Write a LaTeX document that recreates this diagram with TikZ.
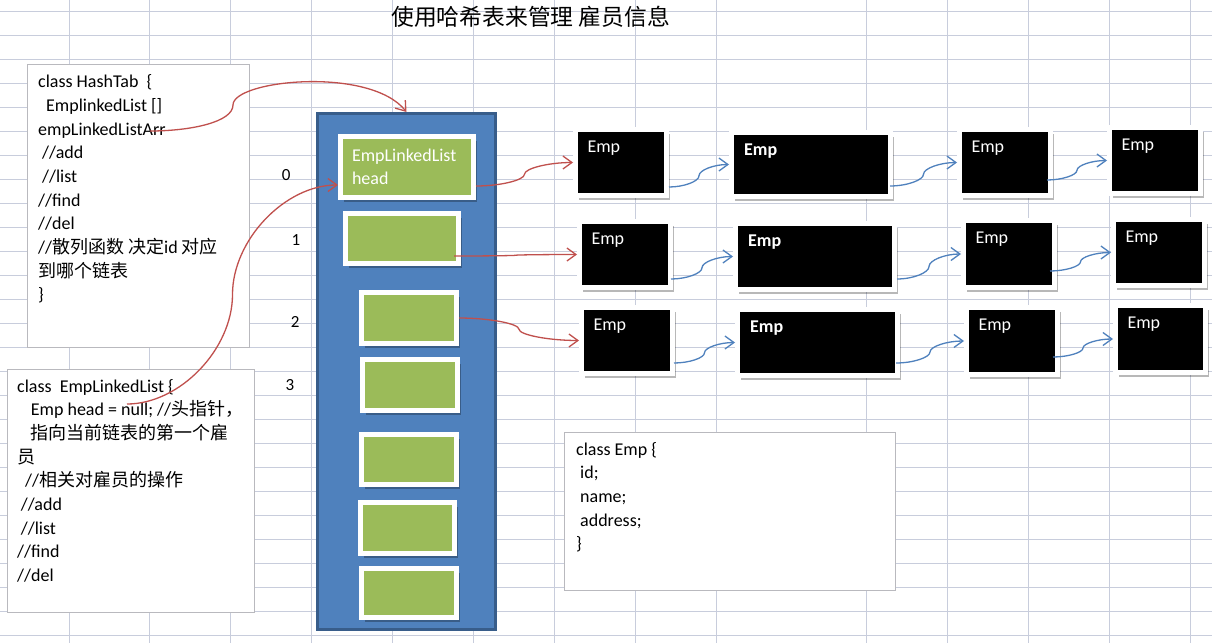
\documentclass[tikz,border=0pt]{standalone}
\usepackage{fontspec}
\setmainfont{Carlito}
\newfontfamily\cjk{Noto Sans CJK SC}
\usetikzlibrary{arrows.meta,shadows,calc}
\definecolor{gridc}{RGB}{200,205,220}
\definecolor{boxborder}{RGB}{185,185,190}
\definecolor{colblue}{RGB}{79,129,189}
\definecolor{colborder}{RGB}{56,93,138}
\definecolor{lgreen}{RGB}{155,187,89}
\definecolor{redc}{RGB}{192,80,77}
\definecolor{bluec}{RGB}{79,129,189}
\newcommand{\sconn}[3]{%
  \draw[#1] let \p1=(#2), \p2=(#3) in (\p1) .. controls ({0.75*\x1+0.25*\x2},{\y1}) and ({0.5*\x1+0.5*\x2},{0.75*\y1+0.25*\y2}) .. ({0.5*\x1+0.5*\x2},{0.5*\y1+0.5*\y2}) .. controls ({0.5*\x1+0.5*\x2},{0.25*\y1+0.75*\y2}) and ({0.25*\x1+0.75*\x2},{\y2}) .. (\p2);}
\tikzset{
  gridline/.style={draw=gridc, line width=0.9pt},
  codebox/.style={draw=boxborder, fill=white, line width=1.2pt, inner sep=0},
  codetext/.style={anchor=north west, align=left, inner sep=0, font=\fontsize{18}{23.67}\selectfont},
  colbox/.style={draw=colborder, fill=colblue, line width=3pt, inner sep=0},
  boxshadow/.style={drop shadow={shadow xshift=3.5pt, shadow yshift=-4.5pt, opacity=0.28, fill=black}},
  slotbox/.style={draw=white, fill=lgreen, line width=5pt, inner sep=0, boxshadow},
  empbox/.style={draw=white, fill=black, line width=5pt, inner sep=0, boxshadow},
  emplabel/.style={text=white, font=\fontsize{18}{20}\selectfont, anchor=base west, inner sep=0},
  redarrow/.style={draw=redc, line width=1.3pt, line join=round, -{Straight Barb[length=9pt,width=13pt]}},
  bluearrow/.style={draw=bluec, line width=1.3pt, line join=round, -{Straight Barb[length=9pt,width=13pt]}},
  idx/.style={font=\fontsize{17}{20}\selectfont, anchor=base, inner sep=0},
}
\begin{document}
\begin{tikzpicture}[x=1pt,y=1pt]
\useasboundingbox (0,0) rectangle (1212,-643);
\fill[white] (0,0) rectangle (1212,-643);
% grid
\foreach \gx in {69,149,230,311,392,473,554,635,716,866,947,1028,1109,1190}
  \draw[gridline] (\gx,0) -- (\gx,-643);
\foreach \k in {0,...,26}
  \draw[gridline] (0,{-11.5-24*\k}) -- (1212,{-11.5-24*\k});

% title
\node[anchor=base west, inner sep=0, font=\cjk\fontsize{22.8}{26}\selectfont] (title) at (391,-25.7) {使用哈希表来管理 雇员信息};

% code boxes
\node[codebox, minimum width=221.8pt, minimum height=282.8pt] (hashbox) at (138.5,-206) {};
\node[codetext] (hashtext) at (38,-71.5) {\rule{0pt}{16pt}class HashTab~~\{\\
\hspace*{8pt}EmplinkedList []\\
empLinkedListArr\\
\hspace*{4pt}//add\\
\hspace*{4pt}//list\\
//find\\
//del\\
//{\cjk 散列函数} {\cjk 决定}id {\cjk 对应}\\
{\cjk 到哪个链表}\\
\}};

\node[codebox, minimum width=246.8pt, minimum height=242.8pt] (listbox) at (131,-491) {};
\node[codetext] (listtext) at (17,-376) {\rule{0pt}{16pt}class~ EmpLinkedList \{\\
\hspace*{13.7pt}Emp head = null; //{\cjk 头指针，}\\
\hspace*{13pt}{\cjk 指向当前链表的第一个雇}\\
{\cjk 员}\\
\hspace*{8pt}//{\cjk 相关对雇员的操作}\\
\hspace*{3.7pt}//add\\
\hspace*{3.7pt}//list\\
//find\\
//del};

\node[codebox, minimum width=330.8pt, minimum height=157.8pt] (empclass) at (730,-511.5) {};
\node[codetext] (emptext) at (576,-439) {\rule{0pt}{16pt}class Emp \{\\
\hspace*{4pt}id;\\
\hspace*{4pt}name;\\
\hspace*{4pt}address;\\
\}};

% index labels
\node[idx] (i0) at (286.3,-180.7) {0};
\node[idx] (i1) at (296,-245.7) {1};
\node[idx] (i2) at (295.3,-327.4) {2};
\node[idx] (i3) at (290,-390.7) {3};

% hash array column
\node[colbox, minimum width=178pt, minimum height=516pt] (col) at (406.5,-371.5) {};
\node[slotbox, minimum width=133pt, minimum height=61pt, text width=110pt, align=left, text=white, font=\fontsize{18}{23.5}\selectfont] (g0) at (407,-167) {EmpLinkedList\\head};
\node[slotbox, minimum width=113pt, minimum height=50pt] (g1) at (402,-238.5) {};
\node[slotbox, minimum width=95pt, minimum height=51pt] (g2) at (409,-318) {};
\node[slotbox, minimum width=95pt, minimum height=51pt] (g3) at (410,-385) {};
\node[slotbox, minimum width=95pt, minimum height=50pt] (g4) at (409,-459.5) {};
\node[slotbox, minimum width=94pt, minimum height=51pt] (g5) at (407.5,-528) {};
\node[slotbox, minimum width=95pt, minimum height=49pt] (g6) at (409,-593) {};

% Emp nodes
\node[empbox, minimum width=91pt, minimum height=66pt, label={[emplabel, xshift=14.3pt, yshift=-25.3pt]north west:Emp}] (e11) at (621,-162.5) {};
\node[empbox, minimum width=159pt, minimum height=64pt, label={[emplabel, font=\bfseries\fontsize{18}{20}\selectfont, xshift=15pt, yshift=-25pt]north west:Emp}] (e12) at (811,-164.5) {};
\node[empbox, minimum width=91pt, minimum height=66pt, label={[emplabel, xshift=14.3pt, yshift=-25.3pt]north west:Emp}] (e13) at (1005,-162.5) {};
\node[empbox, minimum width=91pt, minimum height=66pt, label={[emplabel, xshift=14.3pt, yshift=-25.3pt]north west:Emp}] (e14) at (1155,-160.5) {};

\node[empbox, minimum width=91pt, minimum height=66pt, label={[emplabel, xshift=14.3pt, yshift=-25.3pt]north west:Emp}] (e21) at (625,-254.5) {};
\node[empbox, minimum width=159pt, minimum height=66pt, label={[emplabel, font=\bfseries\fontsize{18}{20}\selectfont, xshift=15pt, yshift=-25pt]north west:Emp}] (e22) at (815,-256.5) {};
\node[empbox, minimum width=91pt, minimum height=67pt, label={[emplabel, xshift=14.3pt, yshift=-25.3pt]north west:Emp}] (e23) at (1009,-254) {};
\node[empbox, minimum width=91pt, minimum height=66pt, label={[emplabel, xshift=14.3pt, yshift=-25.3pt]north west:Emp}] (e24) at (1159,-252.5) {};

\node[empbox, minimum width=91pt, minimum height=66pt, label={[emplabel, xshift=14.3pt, yshift=-25.3pt]north west:Emp}] (e31) at (627,-340.5) {};
\node[empbox, minimum width=160pt, minimum height=66pt, label={[emplabel, font=\bfseries\fontsize{18}{20}\selectfont, xshift=15pt, yshift=-25pt]north west:Emp}] (e32) at (817.5,-342.5) {};
\node[empbox, minimum width=91pt, minimum height=67pt, label={[emplabel, xshift=14.3pt, yshift=-25.3pt]north west:Emp}] (e33) at (1012,-341) {};
\node[empbox, minimum width=90pt, minimum height=67pt, label={[emplabel, xshift=14.3pt, yshift=-25.3pt]north west:Emp}] (e34) at (1160.5,-339) {};

% connectors
\coordinate (arrStart) at (150,-131);
\coordinate (headStart) at (127,-404);
\draw[redarrow] (arrStart) .. controls (191,-131) and (233,-122) .. (233,-105) .. controls (233,-80) and (370,-66) .. (col.north);
\sconn{redarrow}{headStart}{[yshift=-18pt]g0.west}
\sconn{redarrow}{[yshift=-19pt]g0.east}{e11.west}
\sconn{redarrow}{[shift={(-7pt,-17.5pt)}]g1.east}{e21.west}
\sconn{redarrow}{g2.east}{e31.west}

\sconn{bluearrow}{[yshift=-24.5pt]e11.east}{e12.west}
\sconn{bluearrow}{[shift={(-3pt,-21.5pt)}]e12.east}{e13.west}
\sconn{bluearrow}{[shift={(-6pt,-17.5pt)}]e13.east}{e14.west}
\sconn{bluearrow}{[shift={(-2pt,-24.5pt)}]e21.east}{e22.west}
\sconn{bluearrow}{[yshift=-22.5pt]e22.east}{e23.west}
\sconn{bluearrow}{[shift={(-7pt,-17pt)}]e23.east}{e24.west}
\sconn{bluearrow}{[shift={(-1pt,-22.5pt)}]e31.east}{e32.west}
\sconn{bluearrow}{[shift={(-4pt,-20.5pt)}]e32.east}{e33.west}
\sconn{bluearrow}{[shift={(-7pt,-16pt)}]e33.east}{e34.west}
\end{tikzpicture}
\end{document}
